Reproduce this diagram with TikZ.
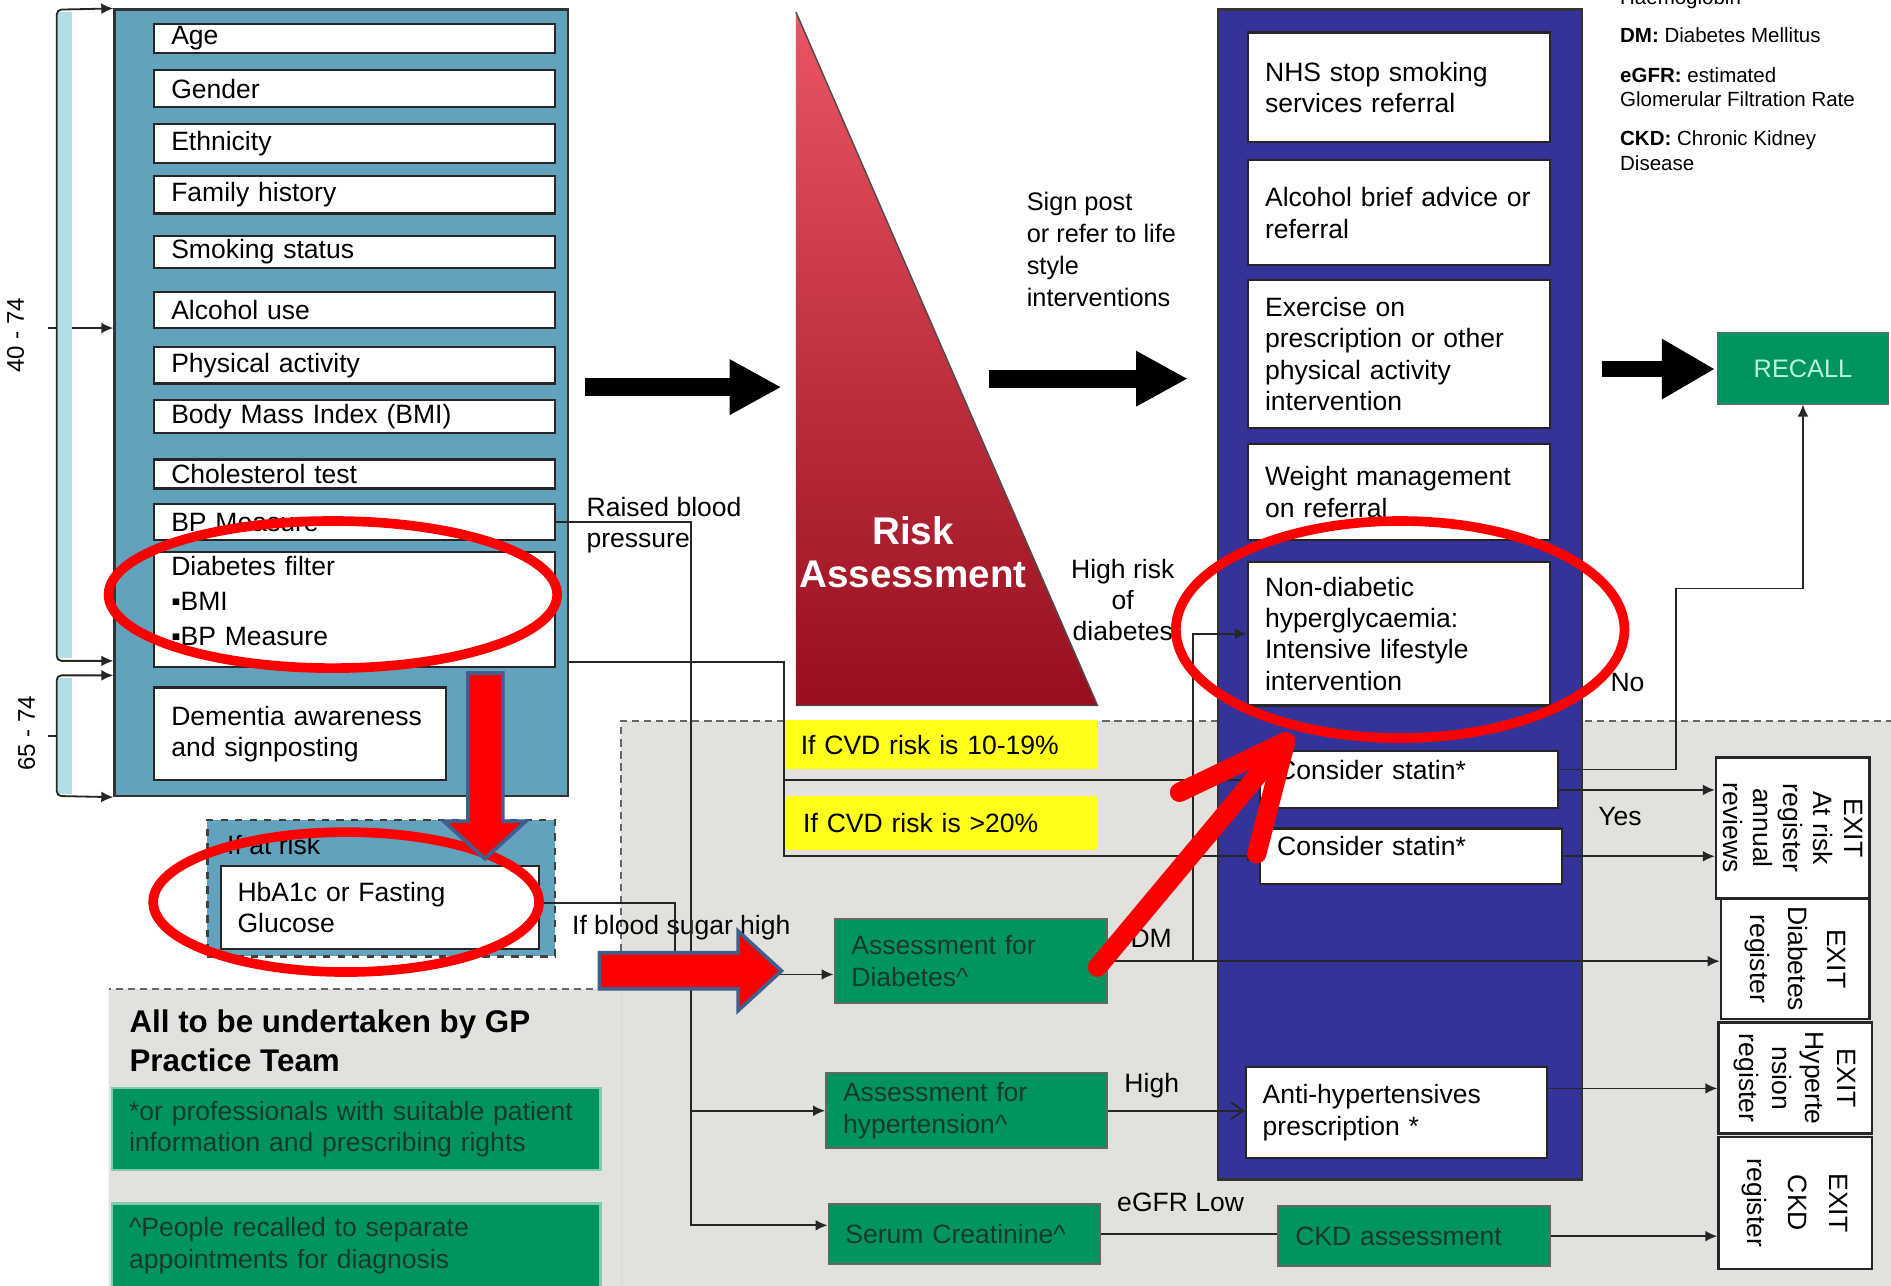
\documentclass[tikz,border=0pt]{standalone}
\usepackage{fontspec}
\setmainfont{Liberation Sans}
\usetikzlibrary{arrows.meta,calc}

\definecolor{lblue}{HTML}{62A2BD}
\definecolor{navy}{HTML}{333399}
\definecolor{gboxc}{HTML}{00955F}
\definecolor{gtext}{HTML}{173A28}
\definecolor{graybg}{HTML}{E3E1DE}
\definecolor{cyanbar}{HTML}{B2DFE6}
\definecolor{yel}{HTML}{FFFF1A}
\definecolor{rtop}{HTML}{EC5563}
\definecolor{rbot}{HTML}{970E1E}
\definecolor{routc}{HTML}{3F5F8C}
\definecolor{recallc}{HTML}{B8F5DC}

\tikzset{
  rectat/.code args={#1,#2,#3,#4}{%
    \pgfmathsetmacro\bxw{((#3)-(#1))*0.5}%
    \pgfmathsetmacro\bxh{((#4)-(#2))*0.5}%
    \pgfmathsetmacro\bxx{((#1)+(#3))/2}%
    \pgfmathsetmacro\bxy{((#2)+(#4))/2}%
    \pgfkeysalso{inner sep=0pt, minimum width=\bxw pt, minimum height=\bxh pt, at={(\bxx,\bxy)}}%
  },
  trect/.code args={#1,#2,#3,#4}{%
    \pgfkeysalso{rectat={#1,#2,#3,#4}}%
    \pgfmathsetmacro\bxt{((#3)-(#1))*0.5-14}%
    \pgfkeysalso{inner xsep=7pt, text width=\bxt pt, align=left}%
  },
  panel/.style={draw=black!80, line width=1pt},
  wbox/.style={draw=black!85, fill=white, line width=0.9pt},
  gbox/.style={draw=black!60, fill=gboxc, line width=0.8pt, text=gtext},
  exitbox/.style={draw=black!85, fill=white, line width=1pt},
  conn/.style={draw=black!85, line width=0.75pt},
  arr/.style={conn, -{Latex[length=5pt,width=4.5pt]}},
  brk/.style={conn, {Latex[length=5pt,width=4.5pt]}-{Latex[length=5pt,width=4.5pt]}, rounded corners=2pt},
  bigarr/.style={line width=7.5pt, -{Triangle[length=21.5pt,width=21.5pt]}},
  lgd/.style={anchor=base west, font=\fontsize{8.5}{10}\selectfont},
  redring/.style={draw=red, line width=4pt},
  blockarr/.style={fill=red, draw=routc, line width=1.5pt, line join=miter},
  redline/.style={draw=red, line width=8pt, line cap=round, line join=round},
}

\begin{document}
\begin{tikzpicture}[x=0.5pt,y=-0.5pt, font=\fontsize{11}{13}\selectfont,
  every node/.append style={inner sep=0pt}]
\useasboundingbox (0,0) rectangle (1568,1066);
\clip (0,0) rectangle (1568,1066);
\fill[white] (0,0) rectangle (1568,1066);

% grey region
\fill[graybg] (515,598) -- (1570,598) -- (1570,1070) -- (90,1070) -- (90,820) -- (515,820) -- cycle;
\draw[dashed, dash pattern=on 3pt off 2pt, black!60, line width=0.8pt] (1570,598) -- (515,598) -- (515,820) -- (90,820);
\draw[black!15] (515,820) -- (515,1070);

% brackets
\fill[cyanbar] (48,10) rectangle (60,546);
\fill[cyanbar] (48,562) rectangle (60,658);

% left panel
\node[panel, fill=lblue, rectat={95,8,471,660}] (lpanel) {};
\node[wbox, trect={128,20,460,44}] (age) {Age};
\node[wbox, trect={128,58,460,89}] (gender) {Gender};
\node[wbox, trect={128,103,460,135}] (eth) {Ethnicity};
\node[wbox, trect={128,146,460,177}] (fam) {Family history};
\node[wbox, trect={128,196,460,222}] (smk) {Smoking status};
\node[wbox, trect={128,242,460,272}] (alcu) {Alcohol use};
\node[wbox, trect={128,288,460,318}] (phys) {Physical activity};
\node[wbox, trect={128,332,460,359}] (bmi) {Body Mass Index (BMI)};
\node[wbox, trect={128,381,460,405}] (chol) {Cholesterol test};
\node[wbox, trect={128,418,460,448}] (bp) {BP Measure};
\node[wbox, trect={128,458,460,553}, font=\fontsize{11}{14.5}\selectfont] (dfil) {Diabetes filter\\▪BMI\\▪BP Measure\rule[-7pt]{0pt}{0pt}};
\node[wbox, trect={128,570,370,647}] (dem) {Dementia~awareness\\and signposting};

\draw[brk] (lpanel.north west) -- (47,8) -- (47,548) -- (lpanel.west |- 0,548);
\draw[conn] (40,272) -- (47,272);
\draw[arr] (60,272) -- (lpanel.west |- 0,272);
\draw[brk] (lpanel.west |- 0,560) -- (47,560) -- (47,660) -- (lpanel.south west);
\draw[conn] (40,610) -- (47,610);
\node[rotate=90, font=\fontsize{10}{12}\selectfont] (age1) at (13,278) {40 - 74};
\node[rotate=90, font=\fontsize{10}{12}\selectfont] (age2) at (22,608) {65 - 74};

% if at risk
\node[draw=black!75, dashed, line width=1pt, fill=lblue, rectat={172,680,460,793}] (atrisk) {};
\node[anchor=west] (atrisktxt) at (188,701) {If at risk};
\node[wbox, trect={183,718,447,787}] (hba) {HbA1c or Fasting\\Glucose};

% risk triangle
\shade[top color=rtop, bottom color=rbot] (660,10) -- (660,585) -- (910,585) -- cycle;
\draw[black!70, line width=0.6pt] (660,10) -- (910,585) -- (660,585);
\node[font=\bfseries\fontsize{16}{18}\selectfont, text=white, align=center] (risk) at (757,458) {Risk\\Assessment};

% right panel
\node[panel, fill=navy, rectat={1010,8,1312,978}] (rpanel) {};
\node[wbox, trect={1035,27,1285,118}] (nhs) {NHS stop smoking\\services referral};
\node[wbox, trect={1035,133,1285,220}] (alc) {Alcohol~brief~advice~or\\referral};
\node[wbox, trect={1035,232,1285,355}] (exe) {Exercise on\\prescription~or~other\\physical activity\\intervention};
\node[wbox, trect={1035,368,1285,448}] (wgt) {Weight~management\\on referral};
\node[wbox, trect={1035,466,1285,585}] (nondia) {Non-diabetic\\hyperglycaemia:\\Intensive lifestyle\\intervention};
\node[wbox, trect={1045,623,1292,670}] (st1) {Consider statin*\rule[-8.5pt]{0pt}{0pt}};
\node[wbox, trect={1045,687,1295,733}] (st2) {Consider statin*\rule[-8.5pt]{0pt}{0pt}};
\node[wbox, trect={1033,885,1283,960}] (ahyp) {Anti-hypertensives\\prescription *};

% legend
\node[lgd] (lg0) at (1343,4) {Haemoglobin};
\node[lgd] (lg1) at (1343,35) {\textbf{DM:} Diabetes Mellitus};
\node[lgd] (lg2) at (1343,68) {\textbf{eGFR:} estimated};
\node[lgd] (lg3) at (1343,88) {Glomerular Filtration Rate};
\node[lgd] (lg4) at (1343,121) {\textbf{CKD:} Chronic Kidney};
\node[lgd] (lg5) at (1343,141) {Disease};

\node[fill=gboxc, draw=black!60, rectat={1424,276,1566,335}, text=recallc, font=\fontsize{10.5}{12}\selectfont] (recall) {RECALL};

% yellow
\node[fill=yel, trect={650,597,910,638}] (y1) {If CVD risk is 10-19\%};
\node[fill=yel, trect={652,660,910,705}] (y2) {If CVD risk is >20\%};

% green boxes
\node[gbox, trect={692,762,918,832}] (adia) {Assessment for\\Diabetes\textasciicircum};
\node[gbox, trect={685,890,918,952}] (hypa) {Assessment for\\hypertension\textasciicircum};
\node[gbox, trect={687,998,912,1048}] (serum) {Serum Creatinine\textasciicircum};
\node[gbox, trect={1060,1000,1285,1050}] (ckd) {CKD assessment};

\node[gbox, draw=gboxc!50!white, line width=1pt, trect={93,902,498,970}] (note1) {*or~professionals~with~suitable~patient\\information and prescribing rights};
\node[gbox, draw=gboxc!50!white, line width=1pt, trect={93,998,498,1068}] (note2) {\textasciicircum People recalled to separate\\appointments for diagnosis};
\node[anchor=north west, align=left, font=\bfseries\fontsize{13}{16}\selectfont] (gpteam) at (107,837) {All to be undertaken by GP\\Practice Team};

% exit boxes
\node[exitbox, rectat={1423,628,1550,745}] (ex1) {};
\node[exitbox, rectat={1427,745,1550,845}] (ex2) {};
\node[exitbox, rectat={1425,848,1552,940}] (ex3) {};
\node[exitbox, rectat={1425,943,1552,1052}] (ex4) {};
\node[rotate=-90, align=center, font=\fontsize{11}{12.5}\selectfont] (ex1t) at (ex1.center) {EXIT\\At risk\\register\\annual\\reviews};
\node[rotate=-90, align=center, font=\fontsize{11}{16}\selectfont] (ex2t) at (ex2.center) {EXIT\\Diabetes\\register};
\node[rotate=-90, align=center, font=\fontsize{11}{13.5}\selectfont] (ex3t) at (ex3.center) {EXIT\\Hyperte\\nsion\\register};
\node[rotate=-90, align=center, font=\fontsize{11}{17}\selectfont] (ex4t) at (ex4.center) {EXIT\\CKD\\register};

% labels
\node[anchor=north west, align=left] (raised) at (486,412) {Raised blood\\pressure};
\node[anchor=north west, align=left, font=\fontsize{10.5}{13.2}\selectfont] (signpost) at (851,159) {Sign post\\or refer to life\\style\\interventions};
\node[anchor=north, align=center] (hrisk) at (931,463) {High risk\\of\\diabetes};
\node[anchor=west] (bsugar) at (474,769) {If blood sugar high};
\node[anchor=west] (dm) at (937,778) {DM};
\node[anchor=west] (high) at (932,900) {High};
\node[anchor=west] (egfr) at (926,997) {eGFR Low};
\node[anchor=west] (no) at (1335,566) {No};
\node[anchor=west] (yes) at (1325,677) {Yes};

% connectors
\draw[arr] (bp.east) -| (573,1016) -- ([yshift=3.5pt]serum.west);
\draw[arr] (hypa.west -| 573,0) -- (hypa.west);
\draw[arr] (lpanel.east |- 0,549) -| (650,710) -- (st2.west);
\draw[arr] (st1.west -| 650,0) -- (st1.west);
\draw[arr] ([yshift=2pt]hba.east) -| (560,808) -- (adia.west |- 0,808);
\draw[arr] (adia.east) -- (adia.east -| ex2.west);
\draw[arr] (adia.east -| 989,0) |- (nondia.west);
\draw[conn, -{Straight Barb[length=5pt,width=7pt]}] (hypa.east) -- (hypa.east -| ahyp.west);
\draw[arr] ([yshift=10pt]ahyp.east) -- ([yshift=10pt]ahyp.east -| ex3.west);
\draw[conn] (serum.east) -- (serum.east -| ckd.west);
\draw[arr] (ckd.east) -- (ckd.east -| ex4.west);
\draw[arr] ([yshift=4.25pt]st1.east) -| (1390,488) -| (recall.south);
\draw[arr] ([yshift=-4.25pt]st1.east) -- ([yshift=-4.25pt]st1.east -| ex1.west);
\draw[arr] (st2.east) -- (st2.east -| ex1.west);

% big black arrows
\coordinate (ba1s) at (485,321); \coordinate (ba1e) at (648,321);
\coordinate (ba2s) at (820,314); \coordinate (ba2e) at (985,314);
\coordinate (ba3s) at (1328,306); \coordinate (ba3e) at (1422,306);
\draw[bigarr] (ba1s) -- (ba1e);
\draw[bigarr] (ba2s) -- (ba2e);
\draw[line width=7pt, -{Triangle[length=22pt,width=23.5pt]}] (ba3s) -- (ba3e);

% red annotations
\draw[redring] (276,493) ellipse [x radius=93pt, y radius=30.5pt];
\draw[redring] (287,748) ellipse [x radius=80pt, y radius=29pt];
\draw[redring] (1161,522) ellipse [x radius=93pt, y radius=45pt];
\draw[blockarr] (388,558) -- (417,558) -- (417,681) -- (436,681) -- (402,712) -- (368,681) -- (388,681) -- cycle;
\draw[blockarr] (497,790) -- (612,790) -- (612,772) -- (648,805) -- (612,838) -- (612,820) -- (497,820) -- cycle;
\coordinate (rs) at (910,802); \coordinate (rt) at (1066,615);
\coordinate (rh1) at (978,657); \coordinate (rh2) at (1042,708);
\draw[redline] (rs) -- (rt);
\draw[redline] (rh1) -- (rt) -- (rh2);
\end{tikzpicture}
\end{document}
